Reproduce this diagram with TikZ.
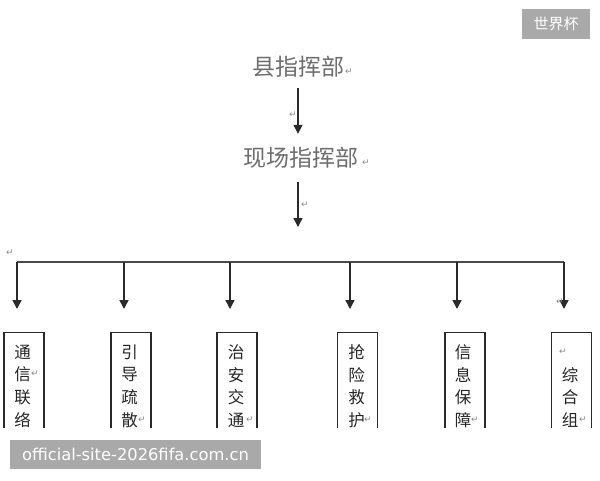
\documentclass[tikz,border=0pt]{standalone}
\usepackage{fontspec}
\setmainfont{DejaVu Sans}
\newfontfamily\cjk{Noto Sans CJK SC}
\newfontfamily\dvs{DejaVu Sans}
\usetikzlibrary{arrows.meta}
\definecolor{linec}{HTML}{2A2A2A}
\definecolor{toptext}{HTML}{6E6E6E}
\definecolor{wmgray}{HTML}{A9A9A9}
\definecolor{retc}{HTML}{8A8A8A}
\begin{document}
\begin{tikzpicture}[x=1pt,y=-1pt,
  arr/.style={draw=linec,line width=1.5pt,-{Triangle[width=9pt,length=9pt]}},
  bus/.style={draw=linec!85,line width=1.3pt},
  boxnode/.style={draw=linec,line width=1.1pt,minimum width=40pt,minimum height=130pt,inner sep=0pt,anchor=north},
  ch/.style={font=\cjk\fontsize{16.5}{16.5}\selectfont,text=black!85,inner sep=0pt},
  head/.style={font=\cjk\fontsize{23}{23}\selectfont,text=toptext,inner sep=0pt},
  ret/.style={font=\dvs\fontsize{9}{9}\selectfont,text=retc,inner sep=0pt},
  wm/.style={fill=wmgray,text=white,inner sep=0pt}]
\useasboundingbox[fill=white] (0,0) rectangle (600,480);

% headings
\node[head,minimum height=42pt] (t1) at (298,67) {县指挥部};
\node[head,minimum height=48pt] (t2) at (301,158) {现场指挥部};
\draw[arr] (t1.south) -- (t1.south |- t2.north);
\coordinate (a2) at (298,227);
\draw[arr] (t1.south |- t2.south) -- (a2);

% bus
\coordinate (busL) at (17,262);
\coordinate (busR) at (564,262);
\draw[bus] (busL) -- (busR);
\foreach \i/\x in {1/17,2/124,3/230,4/350,5/457,6/564}{
  \coordinate (d\i) at (\x,262);
  \coordinate (tip\i) at (\x,309);
  \draw[arr] (d\i) -- (tip\i);
}

% boxes (cut off at the bottom)
\begin{scope}
\clip (0,0) rectangle (600,427);
\node[boxnode] (b1) at (24,332) {};
\node[boxnode] (b2) at (131,332) {};
\node[boxnode] (b3) at (237,332) {};
\node[boxnode] (b4) at (357.5,332) {};
\node[boxnode] (b5) at (465,332) {};
\node[boxnode] (b6) at (571.5,332) {};
\foreach \c [count=\j] in {通,信,联,络} \node[ch] (c1\j) at (22.5,{352+22.7*(\j-1)}) {\c};
\foreach \c [count=\j] in {引,导,疏,散} \node[ch] (c2\j) at (129.5,{352+22.7*(\j-1)}) {\c};
\foreach \c [count=\j] in {治,安,交,通} \node[ch] (c3\j) at (236,{352+22.7*(\j-1)}) {\c};
\foreach \c [count=\j] in {抢,险,救,护} \node[ch] (c4\j) at (356.5,{352+22.7*(\j-1)}) {\c};
\foreach \c [count=\j] in {信,息,保,障} \node[ch] (c5\j) at (463,{352+22.7*(\j-1)}) {\c};
\foreach \c [count=\j] in {综,合,组} \node[ch] (c6\j) at (570,{374.7+22.7*(\j-1)}) {\c};
\node[ret] (r6) at (35,374) {↵};
\node[ret] (r7) at (142,420) {↵};
\node[ret] (r8) at (250,420) {↵};
\node[ret] (r9) at (368,420) {↵};
\node[ret] (r10) at (475,420) {↵};
\node[ret] (r11) at (563,352) {↵};
\node[ret] (r12) at (583,420) {↵};
\end{scope}

% paragraph marks
\node[ret] (r1) at (349,72) {↵};
\node[ret] (r2) at (293,115) {↵};
\node[ret] (r3) at (366,163) {↵};
\node[ret] (r4) at (305,205) {↵};
\node[ret] (r5) at (10,253) {↵};
\node[ret] (r13) at (560,302) {↵};

% watermarks
\node[wm,minimum width=68pt,minimum height=30pt,font=\cjk\fontsize{15}{15}\selectfont] (wm1) at (556,24) {世界杯};
\node[wm,minimum width=251pt,minimum height=29pt,font=\dvs\fontsize{16.3}{16.3}\selectfont] (wm2) at (135.5,454.5) {official-site-2026fifa.com.cn};
\end{tikzpicture}
\end{document}
